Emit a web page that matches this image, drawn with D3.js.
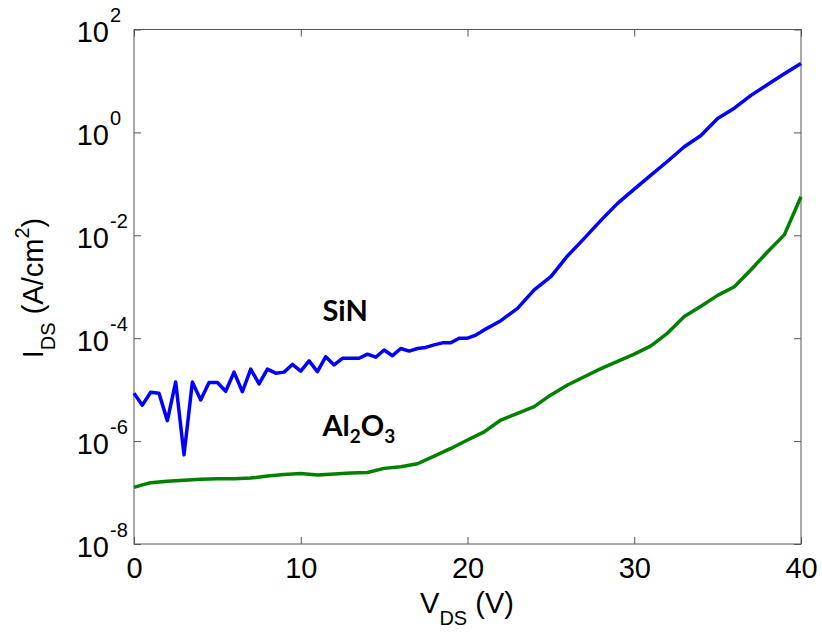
<!DOCTYPE html>
<html>
<head>
<meta charset="utf-8">
<script src="https://cdn.jsdelivr.net/npm/d3@7"></script>
<style>
  body { margin: 0; background: #fff; }
  svg { font-family: "Liberation Sans", Arial, sans-serif; }
</style>
</head>
<body>
<div id="chart"></div>
<script>
// SiN: 0.5 V steps up to 20.5 V, then 1 V steps
const sinV = [0, 0.5, 1, 1.5, 2, 2.5, 3, 3.5, 4, 4.5, 5, 5.5, 6, 6.5, 7, 7.5, 8, 8.5, 9, 9.5,
  10, 10.5, 11, 11.5, 12, 12.5, 13, 13.5, 14, 14.5, 15, 15.5, 16, 16.5, 17, 17.5, 18, 18.5, 19, 19.5,
  20, 20.5, 21, 22, 23, 24, 25, 26, 27, 28, 29, 30, 31, 32, 33, 34, 35, 36, 37, 38, 39, 40];
const sinI = [8.5e-6, 5.0e-6, 8.9e-6, 8.5e-6, 2.5e-6, 1.41e-5, 5.4e-7, 1.41e-5, 6.3e-6, 1.38e-5,
  1.38e-5, 9.3e-6, 2.19e-5, 9.1e-6, 2.51e-5, 1.29e-5, 2.51e-5, 2.09e-5, 2.19e-5, 3.09e-5,
  2.29e-5, 3.63e-5, 2.24e-5, 4.37e-5, 3.02e-5, 4.07e-5, 4.07e-5, 4.07e-5, 4.9e-5, 4.27e-5,
  5.89e-5, 4.57e-5, 6.31e-5, 5.62e-5, 6.31e-5, 6.61e-5, 7.41e-5, 8.13e-5, 8.13e-5, 1.0e-4,
  1.0e-4, 1.15e-4, 1.45e-4, 2.19e-4, 3.8e-4, 8.7e-4, 1.58e-3, 3.98e-3, 8.7e-3, 1.95e-2,
  4.17e-2, 7.9e-2, 0.148, 0.275, 0.525, 0.87, 1.86, 2.95, 5.25, 8.5, 13.8, 21.9];

const alV = [0, 0.5, 1, 2, 3, 4, 5, 6, 7, 8, 9, 10, 11, 12, 13, 14, 15, 16, 17, 18, 19, 20,
  21, 22, 23, 24, 25, 26, 27, 28, 29, 30, 31, 32, 33, 34, 35, 36, 37, 38, 39, 40];
const alI = [1.26e-7, 1.41e-7, 1.55e-7, 1.66e-7, 1.74e-7, 1.82e-7, 1.86e-7, 1.86e-7, 1.91e-7, 2.09e-7,
  2.24e-7, 2.34e-7, 2.19e-7, 2.29e-7, 2.40e-7, 2.45e-7, 2.95e-7, 3.16e-7, 3.63e-7, 5.1e-7,
  7.2e-7, 1.05e-6, 1.51e-6, 2.57e-6, 3.47e-6, 4.68e-6, 7.9e-6, 1.23e-5, 1.78e-5, 2.57e-5,
  3.55e-5, 4.9e-5, 7.1e-5, 1.26e-4, 2.63e-4, 4.17e-4, 6.8e-4, 1.0e-3, 2.14e-3, 4.8e-3,
  1.02e-2, 5.6e-2];

const xTicks = [0, 10, 20, 30, 40];
const yExps = [-8, -6, -4, -2, 0, 2];

const margin = { top: 29.5, right: 21, bottom: 92, left: 134 };
const W = 822, H = 636;
const width = W - margin.left - margin.right;
const height = H - margin.top - margin.bottom;

const svg = d3.select("#chart").append("svg")
  .attr("width", W).attr("height", H)
  .append("g")
  .attr("transform", `translate(${margin.left},${margin.top})`);

const x = d3.scaleLinear().domain([0, 40]).range([0, width]);
const y = d3.scaleLog().domain([1e-8, 1e2]).range([height, 0]);
const yTickVals = yExps.map(e => Math.pow(10, e));

const tickColor = "#555";

// x axis, ticks pointing inward
const xAxis = svg.append("g").attr("transform", `translate(0,${height})`)
  .call(d3.axisBottom(x).tickValues(xTicks).tickSizeInner(-7).tickSizeOuter(0).tickPadding(13));
xAxis.selectAll("text").attr("font-size", 29).attr("fill", "#000");

svg.append("g")
  .call(d3.axisTop(x).tickValues(xTicks).tickSizeInner(-7).tickSizeOuter(0).tickFormat(""));

const yAxis = svg.append("g")
  .call(d3.axisLeft(y).tickValues(yTickVals).tickSizeInner(-7).tickSizeOuter(0).tickFormat(""));
svg.append("g").attr("transform", `translate(${width},0)`)
  .call(d3.axisRight(y).tickValues(yTickVals).tickSizeInner(-7).tickSizeOuter(0).tickFormat(""));

svg.selectAll(".domain").remove();
svg.selectAll(".tick line").attr("stroke", tickColor);

// 10^n labels
yAxis.selectAll(".tick").each(function(d) {
  const e = Math.round(Math.log10(d));
  const g = d3.select(this);
  g.append("text").attr("x", -25).attr("y", 12).attr("text-anchor", "end")
    .attr("font-size", 29).attr("fill", "#000").text("10");
  g.append("text").attr("x", -24).attr("y", -8).attr("text-anchor", "start")
    .attr("font-size", 20).attr("fill", "#000").text(e);
});

// frame
svg.append("rect").attr("width", width).attr("height", height)
  .attr("fill", "none").attr("stroke", tickColor).attr("stroke-width", 1);

const line = d3.line().x(d => x(d[0])).y(d => y(d[1]));

svg.append("path").datum(alV.map((v, i) => [v, alI[i]]))
  .attr("d", line).attr("fill", "none").attr("stroke", "#008000").attr("stroke-width", 3.5)
  .attr("stroke-linejoin", "round");

svg.append("path").datum(sinV.map((v, i) => [v, sinI[i]]))
  .attr("d", line).attr("fill", "none").attr("stroke", "#0000ff").attr("stroke-width", 3.5)
  .attr("stroke-linejoin", "round");

// series annotations
svg.append("text").attr("x", x(11.3)).attr("y", y(2.2e-4))
  .attr("font-family", "Lato, 'Open Sans', sans-serif").attr("font-weight", "bold")
  .attr("font-size", 29).text("SiN");

const alLabel = svg.append("text").attr("x", x(11.3)).attr("y", y(1.25e-6))
  .attr("font-family", "Lato, 'Open Sans', sans-serif").attr("font-weight", "bold")
  .attr("font-size", 29);
alLabel.append("tspan").text("Al");
alLabel.append("tspan").attr("font-size", 19).attr("dy", 7).text("2");
alLabel.append("tspan").attr("dy", -7).text("O");
alLabel.append("tspan").attr("font-size", 19).attr("dy", 7).text("3");

// axis titles
const xl = svg.append("text").attr("x", 333).attr("y", height + 69)
  .attr("text-anchor", "middle").attr("font-size", 29);
xl.append("tspan").text("V");
xl.append("tspan").attr("font-size", 20).attr("dy", 12).text("DS");
xl.append("tspan").attr("dy", -12).text(" (V)");

const yl = svg.append("text")
  .attr("transform", `translate(${43 - margin.left},${288 - margin.top}) rotate(-90)`)
  .attr("text-anchor", "middle").attr("font-size", 29);
yl.append("tspan").text("I");
yl.append("tspan").attr("font-size", 20).attr("dy", 12).text("DS");
yl.append("tspan").attr("dy", -12).text(" (A/cm");
yl.append("tspan").attr("font-size", 20).attr("dy", -14).text("2");
yl.append("tspan").attr("dy", 14).text(")");
</script>
</body>
</html>
